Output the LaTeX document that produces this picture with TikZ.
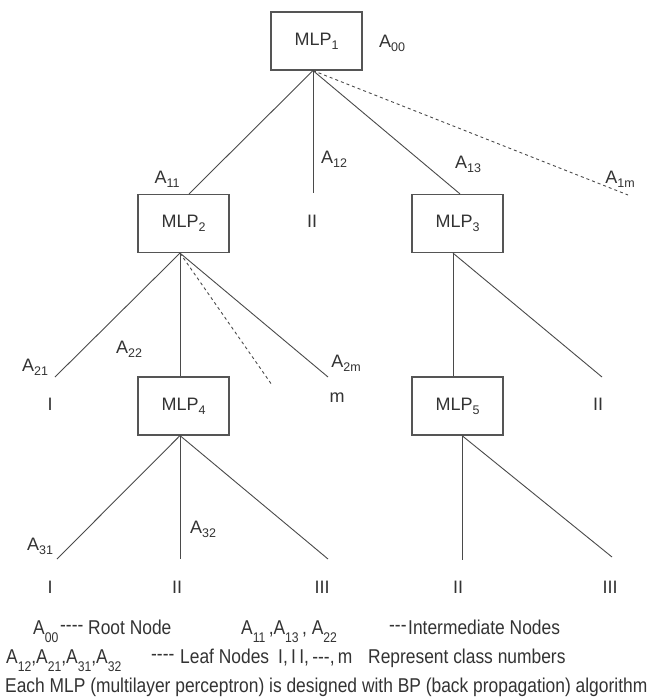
\documentclass[tikz,border=0pt]{standalone}
\usepackage{fontspec}
\setmainfont{Liberation Sans}
\newfontfamily\legfont[FakeStretch=0.87]{Liberation Sans}
\definecolor{boxgray}{HTML}{555555}
\definecolor{linegray}{HTML}{4A4A4A}
\definecolor{txtgray}{HTML}{333333}
\newcommand\sbs[1]{\raisebox{-4pt}{\fontsize{12.5}{12.5}\selectfont #1}}
\newcommand\lsb[1]{\raisebox{-8pt}{\fontsize{14}{14}\selectfont #1}}
\begin{document}
\begin{tikzpicture}[x=1pt,y=-1pt,
  box/.style={draw=boxgray, line width=1.2pt, minimum width=91pt, minimum height=58pt, inner sep=0pt, font=\fontsize{18}{20}\selectfont, text=txtgray},
  lbl/.style={inner sep=0pt, font=\fontsize{18}{20}\selectfont, text=txtgray},
  edge/.style={draw=linegray, line width=0.9pt},
  dashedge/.style={edge, dash pattern=on 3pt off 3pt},
  leg/.style={inner sep=0pt, anchor=base west, font=\legfont\fontsize{20}{24}\selectfont, text=txtgray}]
\fill[white] (0,0) rectangle (656,699);
\useasboundingbox (0,0) rectangle (656,699);

% boxes
\node[box] (m1) at (316.5,41) {MLP\sbs{1}};
\node[box] (m2) at (183.5,223.5) {MLP\sbs{2}};
\node[box] (m3) at (457.5,223.5) {MLP\sbs{3}};
\node[box] (m4) at (183.5,406) {MLP\sbs{4}};
\node[box] (m5) at (457.5,406) {MLP\sbs{5}};

% branch points
\coordinate (b1) at ([xshift=-3.5pt]m1.south);
\coordinate (b2) at ([xshift=-3.5pt]m2.south);
\coordinate (b3) at ([xshift=-4.5pt]m3.south);
\coordinate (b4) at ([xshift=-3.5pt]m4.south);
\coordinate (b5) at ([xshift=4.5pt]m5.south);
\coordinate (t2) at ([xshift=5.5pt]m2.north);
\coordinate (t3) at ([xshift=2.5pt]m3.north);
\coordinate (t4) at ([xshift=-3.5pt]m4.north);
\coordinate (t5) at ([xshift=-4.5pt]m5.north);

% free ends
\coordinate (e12) at (313,193);
\coordinate (e1m) at (628,195);
\coordinate (e21) at (55,377);
\coordinate (e2d) at (272,385);
\coordinate (e2m) at (328,377);
\coordinate (e3r) at (602,377);
\coordinate (e31) at (57,559);
\coordinate (e32) at (180,559);
\coordinate (e33) at (328,559);
\coordinate (e51) at (462,560);
\coordinate (e52) at (612,557);

% connectors
\draw[edge] (b1) -- (t2);
\draw[edge] (b1) -- (e12);
\draw[edge] (b1) -- (t3);
\draw[dashedge] (b1) -- (e1m);
\draw[edge] (b2) -- (e21);
\draw[edge] (b2) -- (t4);
\draw[dashedge] (b2) -- (e2d);
\draw[edge] (b2) -- (e2m);
\draw[edge] (b3) -- (t5);
\draw[edge] (b3) -- (e3r);
\draw[edge] (b4) -- (e31);
\draw[edge] (b4) -- (e32);
\draw[edge] (b4) -- (e33);
\draw[edge] (b5) -- (e51);
\draw[edge] (b5) -- (e52);

% edge labels
\node[lbl] (a00) at (392,43) {A\sbs{00}};
\node[lbl] (a11) at (167,179) {A\sbs{11}};
\node[lbl] (a12) at (334,159) {A\sbs{12}};
\node[lbl] (a13) at (468,164) {A\sbs{13}};
\node[lbl] (a1m) at (620,179) {A\sbs{1m}};
\node[lbl] (a21) at (35,367) {A\sbs{21}};
\node[lbl] (a22) at (129,349) {A\sbs{22}};
\node[lbl] (a2m) at (346,363) {A\sbs{2m}};
\node[lbl] (a31) at (40,546) {A\sbs{31}};
\node[lbl] (a32) at (203,529) {A\sbs{32}};

% leaf labels
\node[lbl] (l12) at (312,221) {II};
\node[lbl] (l21) at (50,404) {I};
\node[lbl] (l2m) at (337,398) {m};
\node[lbl] (l3r) at (598,404) {II};
\node[lbl] (l41) at (50,587) {I};
\node[lbl] (l42) at (177,587) {II};
\node[lbl] (l43) at (322,587) {III};
\node[lbl] (l51) at (458,587) {II};
\node[lbl] (l52) at (610,587) {III};

% legend
\node[leg] (g1a) at (33,634) {A\lsb{00}};
\node[leg] (g1b) at (60,631) {-{}-{}-{}-};
\node[leg] (g1c) at (88,634) {Root Node};
\node[leg] (g1d) at (241,634) {A\lsb{11}\,,A\lsb{13}\,, A\lsb{22}};
\node[leg] (g1e) at (389,631) {-{}-{}-};
\node[leg] (g1f) at (408,634) {Intermediate Nodes};
\node[leg] (g2a) at (6,663) {A\lsb{12},A\lsb{21},A\lsb{31},A\lsb{32}};
\node[leg] (g2b) at (151,660) {-{}-{}-{}-};
\node[leg] (g2c) at (180,663) {Leaf Nodes};
\node[leg] (g2d) at (278,663) {I,\thinspace I\thinspace I,\thinspace -{}-{}-,\thinspace m};
\node[leg] (g2e) at (368,663) {Represent class numbers};
\node[leg] (g3) at (5,692) {Each MLP (multilayer perceptron) is designed with BP (back propagation) algorithm};
\end{tikzpicture}
\end{document}
